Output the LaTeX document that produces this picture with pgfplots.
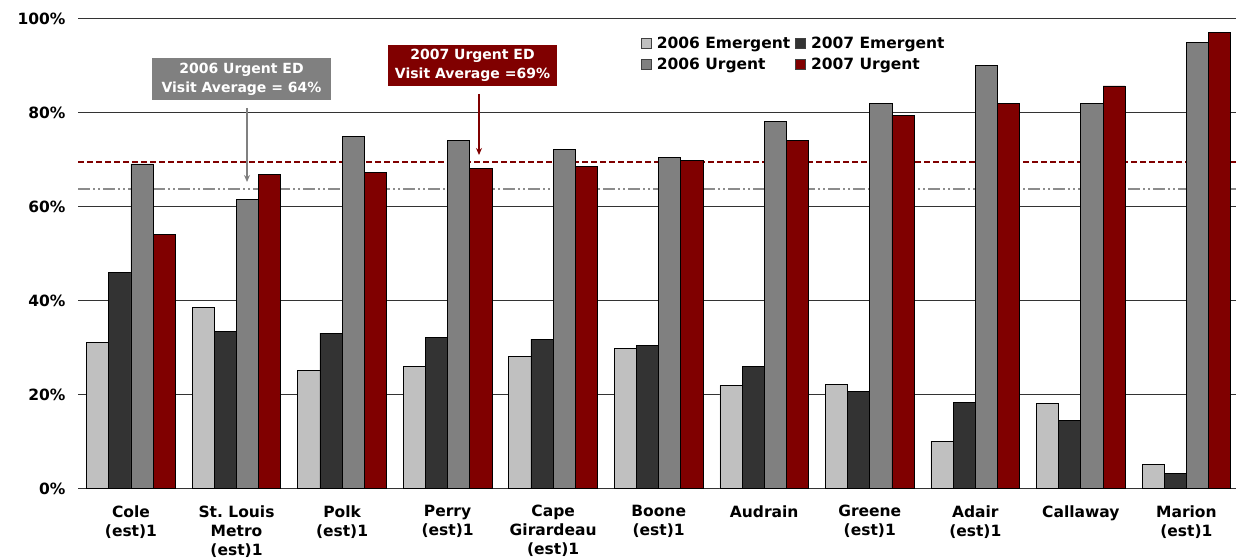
\documentclass[border=0pt]{standalone}
\usepackage{fontspec}
\setmainfont{DejaVu Sans}
\usepackage{pgfplots}
\pgfplotsset{compat=1.18}
\usetikzlibrary{arrows.meta}
\definecolor{eLight}{HTML}{C0C0C0}
\definecolor{eDark}{HTML}{333333}
\definecolor{uGray}{HTML}{808080}
\definecolor{uRed}{HTML}{800000}
\pgfplotsset{sqleg/.style={legend image code/.code={\draw[##1,draw=black!75,line width=0.8pt] (0pt,-5pt) rectangle (10pt,5pt);}}}

\begin{document}
\begin{tikzpicture}[x=1pt,y=1pt]
\path[use as bounding box] (0,0) rectangle (1236,559);
\begin{axis}[
 at={(78pt,70.3pt)}, anchor=south west, scale only axis,
 width=1158pt, height=470pt,
 xmin=-0.502, xmax=10.47, ymin=0, ymax=100,
 axis line style={draw=none},
 major tick length=0pt,
 ytick={0,20,40,60,80,100},
 yticklabels={0\%,20\%,40\%,60\%,80\%,100\%},
 ymajorgrids, grid style={black!80, line width=1.1pt},
 xtick={0,...,10},
 xticklabels={{Cole\\(est)1},{St.\ Louis\\Metro\\(est)1},{Polk\\(est)1},{Perry\\(est)1},{Cape\\Girardeau\\(est)1},{Boone\\(est)1},{Audrain},{Greene\\(est)1},{Adair\\(est)1},{Callaway},{Marion\\(est)1}},
 tick label style={font=\bfseries\fontsize{15.5}{19}\selectfont},
 xticklabel style={align=center, yshift=-13pt},
 yticklabel style={xshift=-9pt},
 legend columns=2,
 legend cell align=left,
 legend style={at={(0.486,0.965)}, anchor=north west, draw=none, fill=none,
   font=\bfseries\fontsize{15.5}{18}\selectfont, column sep=3pt, row sep=3.5pt,
   inner sep=0pt, nodes={inner sep=2pt}},
 clip=false,
]
\addplot[forget plot, color=uRed, line width=1.6pt, dash pattern=on 6pt off 3pt] coordinates {(-0.502,69.5) (10.47,69.5)};
\addplot[forget plot, color=black!45, line width=1.7pt, dash pattern=on 12pt off 3pt on 2pt off 3pt on 2pt off 3pt] coordinates {(-0.502,63.8) (10.47,63.8)};

\addplot[ybar, bar width=0.21, bar shift=-0.315, fill=eLight, draw=black, line width=0.8pt, sqleg] coordinates {
(0,31.1) (1,38.5) (2,25.1) (3,26.0) (4,28.1) (5,29.9) (6,22.0) (7,22.1) (8,10.1) (9,18.1) (10,5.2)};
\addlegendentry{2006 Emergent}
\addplot[ybar, bar width=0.21, bar shift=-0.105, fill=eDark, draw=black, line width=0.8pt, sqleg] coordinates {
(0,46.1) (1,33.4) (2,33.1) (3,32.1) (4,31.8) (5,30.4) (6,26.1) (7,20.7) (8,18.3) (9,14.6) (10,3.2)};
\addlegendentry{2007 Emergent}
\addplot[ybar, bar width=0.21, bar shift=0.105, fill=uGray, draw=black, line width=0.8pt, sqleg] coordinates {
(0,69.1) (1,61.6) (2,75.0) (3,74.1) (4,72.1) (5,70.4) (6,78.1) (7,82.0) (8,90.1) (9,82.0) (10,95.0)};
\addlegendentry{2006 Urgent}
\addplot[ybar, bar width=0.21, bar shift=0.315, fill=uRed, draw=black, line width=0.8pt, sqleg] coordinates {
(0,54.1) (1,66.9) (2,67.2) (3,68.1) (4,68.5) (5,69.8) (6,74.1) (7,79.5) (8,81.9) (9,85.7) (10,97.0)};
\addlegendentry{2007 Urgent}
\end{axis}
\node[fill=uGray, text=white, font=\bfseries\fontsize{14}{19}\selectfont, align=center, minimum width=179pt, minimum height=42pt, inner sep=0pt] at (241.5,480) {2006 Urgent ED\\Visit Average = 64\%};
\node[fill=uRed, text=white, font=\bfseries\fontsize{14}{19}\selectfont, align=center, minimum width=169pt, minimum height=41pt, inner sep=0pt] at (472.5,493.5) {2007 Urgent ED\\Visit Average =69\%};
\draw[uGray, line width=1.3pt, -{Stealth[length=7pt,width=6pt]}] (247,451) -- (247,377);
\draw[uRed, line width=1.3pt, -{Stealth[length=7pt,width=6pt]}] (479,465) -- (479,404);
\end{tikzpicture}
\end{document}
